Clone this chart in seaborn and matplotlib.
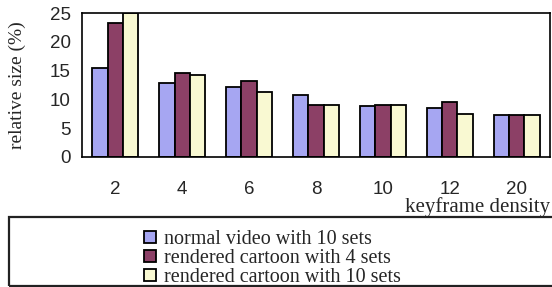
import matplotlib
matplotlib.use("Agg")
import matplotlib.pyplot as plt
import matplotlib.patches as mpatches
import seaborn as sns
import pandas as pd
import numpy as np

categories = ["2", "4", "6", "8", "10", "12", "20"]
series_names = ["normal video with 10 sets",
                "rendered cartoon with 4 sets",
                "rendered cartoon with 10 sets"]
normal_video_10 = [15.5, 12.9, 12.1, 10.8, 8.8, 8.5, 7.3]
cartoon_4 = [23.3, 14.6, 13.2, 9.1, 9.1, 9.5, 7.3]
cartoon_10 = [25.0, 14.2, 11.2, 9.1, 9.1, 7.4, 7.3]
colors = ["#9999FF", "#993366", "#FFFFCC"]
yticks = [0, 5, 10, 15, 20, 25]

rows = []
for name, vals in zip(series_names, [normal_video_10, cartoon_4, cartoon_10]):
    for c, v in zip(categories, vals):
        rows.append({"density": c, "size": v, "series": name})
df = pd.DataFrame(rows)

sns.set_style("white")
plt.rcParams["font.family"] = ["Liberation Sans", "DejaVu Sans"]

fig = plt.figure(figsize=(5.52, 2.87), dpi=100)
ax = fig.add_axes([82/552, 1-157/287, (550-82)/552, (157-13)/287])

sns.barplot(data=df, x="density", y="size", hue="series", order=categories,
            hue_order=series_names, palette=colors, edgecolor="black",
            linewidth=1.3, width=0.69, gap=0, ax=ax, legend=True)

ax.set_ylim(0, 25)
ax.set_xlim(-0.5, len(categories) - 0.5)
ax.set_yticks(yticks)
ax.set_yticklabels([str(t) for t in yticks], fontsize=13.5)
ax.set_xticks(range(len(categories)))
ax.set_xticklabels(categories, fontsize=13.5)
ax.tick_params(axis="x", which="major", length=0, pad=17)
ax.set_xticks(np.arange(-0.5, len(categories)), minor=True)
ax.tick_params(axis="x", which="minor", length=5, width=1.2, direction="out", color="black")
ax.tick_params(axis="y", length=5, width=1.2, direction="out", color="black", pad=3)
for s in ax.spines.values():
    s.set_visible(True)
    s.set_color("black")
    s.set_linewidth(1.2)
ax.grid(False)

ax.set_ylabel("relative size (%)", fontsize=14, family=["Liberation Serif"])
ax.yaxis.set_label_coords(-(82-26)/468, 0.5)
ax.set_xlabel("keyframe density", fontsize=15, family=["Liberation Serif"], ha="right")
ax.xaxis.set_label_coords(1.0, -(197-157)/144)

handles, labels = ax.get_legend_handles_labels()
ax.get_legend().remove()
leg = fig.legend(handles, labels, loc="upper left",
                 bbox_to_anchor=(144/552, 1-230/287), frameon=False,
                 prop={"family": "Liberation Serif", "size": 14.5},
                 handlelength=0.6, handleheight=0.6, handletextpad=0.4,
                 labelspacing=0.0, borderpad=0, borderaxespad=0)

frame = mpatches.Rectangle((9/552, 1-286/287), 0.99, (286-217)/287,
                           transform=fig.transFigure, fill=False,
                           edgecolor="#222222", linewidth=1.6, clip_on=False)
fig.add_artist(frame)

fig.savefig("out.png", dpi=100)
